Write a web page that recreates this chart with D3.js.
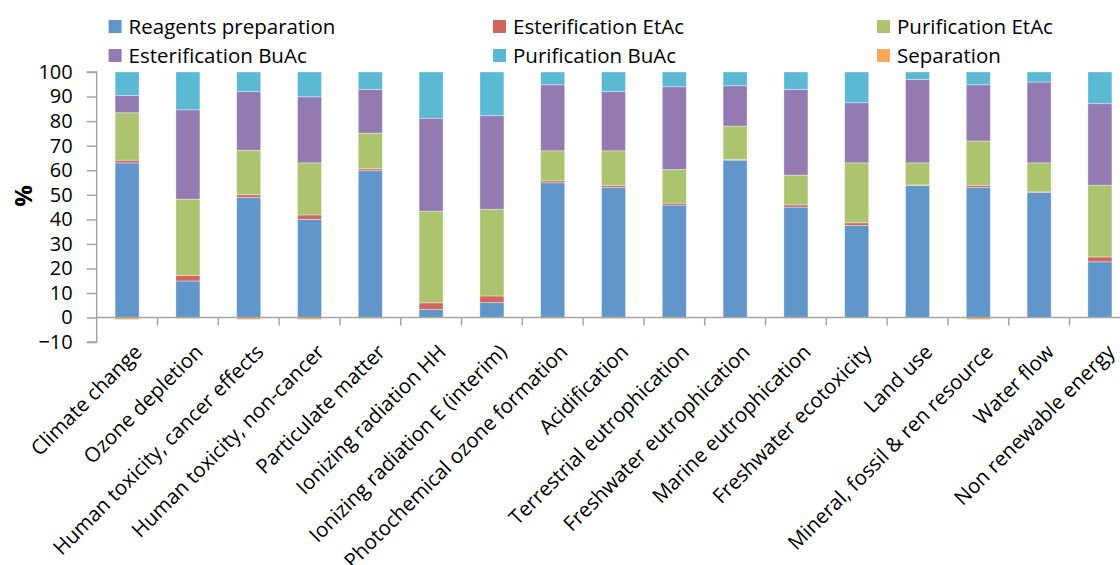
<!DOCTYPE html>
<html>
<head>
<meta charset="utf-8">
<script src="https://cdn.jsdelivr.net/npm/d3@7"></script>
<style>
  html, body { margin: 0; padding: 0; background: #fff; }
  svg { display: block; font-family: "Open Sans", sans-serif; }
</style>
</head>
<body>
<svg id="chart" width="1120" height="565"></svg>
<script>
const categories = [
  "Climate change", "Ozone depletion", "Human toxicity, cancer effects",
  "Human toxicity, non-cancer", "Particulate matter", "Ionizing radiation HH",
  "Ionizing radiation E (interim)", "Photochemical ozone formation", "Acidification",
  "Terrestrial eutrophication", "Freshwater eutrophication", "Marine eutrophication",
  "Freshwater ecotoxicity", "Land use", "Mineral, fossil & ren resource",
  "Water flow", "Non renewable energy"
];
const seriesNames = ["Reagents preparation", "Esterification EtAc", "Purification EtAc",
  "Esterification BuAc", "Purification BuAc", "Separation"];

const reagentsPreparation = [63.0, 14.9, 48.9, 40.0, 59.8, 3.3, 6.1, 54.9, 53.0, 45.8, 64.1, 45.0, 37.5, 53.8, 53.0, 51.0, 22.7];
const esterificationEtAc  = [1.1, 2.3, 1.1, 1.8, 0.8, 2.7, 2.7, 0.8, 0.8, 0.8, 0.3, 0.9, 1.1, 0.2, 0.8, 0.2, 2.0];
const purificationEtAc    = [19.3, 31.0, 18.1, 21.2, 14.5, 37.3, 35.3, 12.2, 14.1, 13.7, 13.6, 12.1, 24.4, 9.0, 18.1, 11.8, 29.2];
const esterificationBuAc  = [7.1, 36.4, 23.9, 26.9, 17.8, 37.9, 38.1, 26.9, 24.1, 33.7, 16.4, 34.9, 24.5, 34.0, 22.9, 32.9, 33.2];
const purificationBuAc    = [9.5, 15.4, 8.0, 10.1, 7.1, 18.8, 17.8, 5.2, 8.0, 6.0, 5.6, 7.1, 12.5, 3.0, 5.2, 4.1, 12.9];
const separation          = [-0.8, -0.4, -0.8, -0.8, -0.4, -0.1, -0.1, -0.4, -0.4, -0.4, -0.1, -0.3, -0.1, -0.1, -0.8, -0.1, -0.1];

const yTicks = [-10, 0, 10, 20, 30, 40, 50, 60, 70, 80, 90, 100];

const colors = ["#6096CA", "#D0675F", "#ABC46D", "#937BB2", "#5BB9D3", "#F9A85A"];

const seriesArrays = [reagentsPreparation, esterificationEtAc, purificationEtAc,
  esterificationBuAc, purificationBuAc, separation];
const table = categories.map((c, i) => {
  const row = { category: c };
  seriesNames.forEach((s, j) => row[s] = seriesArrays[j][i]);
  return row;
});

const svg = d3.select("#chart");
const x0 = 96.7, step = 60.8;
const x = d3.scaleBand()
  .domain(categories)
  .range([x0, x0 + step * categories.length])
  .paddingInner(0.605)
  .paddingOuter(0.3025);
const y = d3.scaleLinear().domain([-10, 100]).range([342.1, 72]);

const stack = d3.stack().keys(seriesNames).offset(d3.stackOffsetDiverging);
const stacked = stack(table);

const axisColor = "#A6A6A6";

// bars
svg.append("g").selectAll("g")
  .data(stacked)
  .join("g")
  .attr("fill", (d, i) => colors[i])
  .selectAll("rect")
  .data(d => d)
  .join("rect")
  .attr("x", d => x(d.data.category))
  .attr("width", x.bandwidth())
  .attr("y", d => y(Math.max(d[0], d[1])))
  .attr("height", d => Math.abs(y(d[0]) - y(d[1])))
  .attr("stroke", "rgba(255,255,255,0.45)")
  .attr("stroke-width", 0.8);

// y axis
const yAxis = svg.append("g")
  .attr("transform", `translate(${x0},0)`)
  .call(d3.axisLeft(y).tickValues(yTicks).tickSize(10).tickPadding(14).tickFormat(d3.format("d")));
yAxis.select(".domain").attr("stroke", axisColor).attr("stroke-width", 1.5).attr("d", `M-10,${y(100)}H0V${y(-10)}H-10`);
yAxis.selectAll(".tick line").attr("stroke", axisColor).attr("stroke-width", 1.5);
yAxis.selectAll(".tick text").attr("fill", "#000").style("font-size", "20px").style("font-family", "Open Sans, sans-serif");

// zero line (x axis)
svg.append("line")
  .attr("x1", x0).attr("x2", 1120)
  .attr("y1", y(0)).attr("y2", y(0))
  .attr("stroke", axisColor).attr("stroke-width", 1.5);

// category boundary ticks
svg.append("g").selectAll("line")
  .data(categories.slice(1))
  .join("line")
  .attr("x1", d => x(d) - (step - x.bandwidth()) / 2)
  .attr("x2", d => x(d) - (step - x.bandwidth()) / 2)
  .attr("y1", y(0)).attr("y2", y(0) + 8)
  .attr("stroke", axisColor).attr("stroke-width", 1.5);

// category labels
svg.append("g").selectAll("text")
  .data(categories)
  .join("text")
  .attr("transform", d => `translate(${x(d) + x.bandwidth() / 2 + 6},${y(-10) + 1}) rotate(-45)`)
  .attr("text-anchor", "end")
  .attr("dy", "0.7em")
  .style("font-size", "20.5px")
  .text(d => d);

// y title
svg.append("text")
  .attr("transform", `translate(24,196) rotate(-90)`)
  .attr("text-anchor", "middle")
  .attr("dy", "0.35em")
  .style("font-size", "24px")
  .style("font-weight", "bold")
  .text("%");

// legend
const legendPos = [[108.6, 27], [493, 27], [877, 27], [108.6, 56], [493, 56], [877, 56]];
const lg = svg.append("g").selectAll("g")
  .data(seriesNames)
  .join("g")
  .attr("transform", (d, i) => `translate(${legendPos[i][0]},${legendPos[i][1]})`);
lg.append("rect").attr("x", 0).attr("y", -7).attr("width", 13).attr("height", 13)
  .attr("fill", (d, i) => colors[i]);
lg.append("text").attr("x", 20).attr("y", 0).attr("dy", "0.35em")
  .style("font-size", "20.5px").text(d => d);
</script>
</body>
</html>
